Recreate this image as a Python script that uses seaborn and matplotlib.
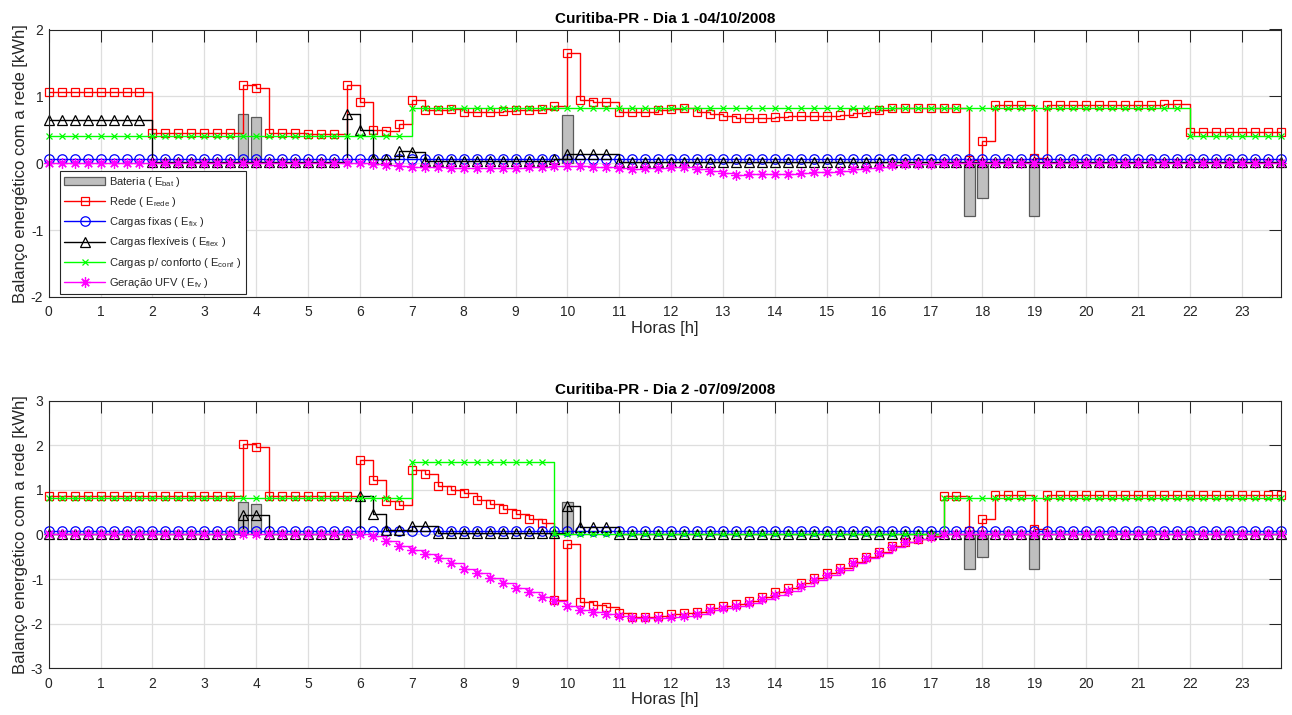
import numpy as np
import matplotlib
matplotlib.use("Agg")
import matplotlib.pyplot as plt
from matplotlib.patches import Patch
from matplotlib.lines import Line2D
import seaborn as sns

# ---------------- data ----------------
hours = np.arange(96) * 0.25
xticks = list(range(24))

titles = ["Curitiba-PR - Dia 1 -04/10/2008", "Curitiba-PR - Dia 2 -07/09/2008"]
xlabel = "Horas [h]"
ylabel = "Balanço energético com a rede [kWh]"
labels = ["Bateria ( E$_{bat}$ )", "Rede ( E$_{rede}$ )", "Cargas fixas ( E$_{fix}$ )",
          "Cargas flexíveis ( E$_{flex}$ )", "Cargas p/ conforto ( E$_{conf}$ )",
          "Geração UFV ( E$_{fv}$ )"]

# Day 1
bat1 = [0]*15 + [0.73, 0.69] + [0]*23 + [0.72] + [0]*30 + [-0.79, -0.52, 0, 0, 0, -0.79] + [0]*19
red1 = ([1.07]*8 + [0.45]*7 + [1.17, 1.12] + [0.45, 0.45, 0.45, 0.44, 0.44, 0.43] +
        [1.17, 0.92, 0.50, 0.48, 0.58, 0.95, 0.79, 0.79, 0.81, 0.77, 0.77, 0.77, 0.78,
         0.79, 0.80, 0.81, 0.86, 1.65, 0.94, 0.92, 0.91, 0.77, 0.76, 0.77, 0.79,
         0.81, 0.82, 0.77, 0.73, 0.70, 0.67, 0.68, 0.68, 0.69, 0.70, 0.70, 0.71,
         0.71, 0.72, 0.75, 0.77, 0.80, 0.82, 0.82, 0.83, 0.83, 0.83, 0.83, 0.05,
         0.34, 0.87, 0.87, 0.87, 0.08] + [0.87]*9 + [0.88, 0.88] + [0.47]*8)
fix1 = [0.07]*28 + [0.06]*36 + [0.07]*32
flex1 = ([0.64]*8 + [0.02]*15 + [0.74, 0.50, 0.07, 0.07, 0.18, 0.17] + [0.04]*10 +
         [0.06, 0.14, 0.14, 0.14, 0.14] + [0.02]*52)
conf1 = [0.41]*28 + [0.82]*60 + [0.41]*8
pv1 = ([0.0]*25 + [-0.01, -0.025, -0.04, -0.05, -0.06, -0.06, -0.065, -0.075, -0.075,
        -0.075, -0.065, -0.065, -0.06, -0.05, -0.04, -0.035, -0.04, -0.05, -0.06,
        -0.075, -0.09, -0.075, -0.065, -0.06, -0.06, -0.085, -0.115, -0.15, -0.175,
        -0.165, -0.165, -0.16, -0.155, -0.145, -0.135, -0.125, -0.11, -0.085, -0.065,
        -0.05, -0.025, -0.015, -0.01, -0.005] + [0.0]*27)

# Day 2
bat2 = [0]*15 + [0.73, 0.69] + [0]*23 + [0.72] + [0]*30 + [-0.77, -0.51, 0, 0, 0, -0.77] + [0]*19
red2 = ([0.86]*15 + [2.02, 1.95] + [0.86]*7 +
        [1.67, 1.23, 0.74, 0.65, 1.45, 1.35, 1.09, 1.00, 0.92, 0.78, 0.67, 0.56, 0.45,
         0.35, 0.25, -1.47, -0.22, -1.52, -1.58, -1.62, -1.77, -1.84, -1.84, -1.83,
         -1.79, -1.77, -1.73, -1.66, -1.61, -1.56, -1.49, -1.40, -1.30, -1.21, -1.10,
         -0.98, -0.87, -0.76, -0.62, -0.51, -0.39, -0.26, -0.16, -0.11, -0.04,
         0.86, 0.86, 0.07, 0.35, 0.89, 0.89, 0.89, 0.11] + [0.88]*19)
fix2 = [0.08]*96
flex2 = ([0.02]*15 + [0.44, 0.44] + [0.02]*7 + [0.85, 0.45, 0.10, 0.10, 0.18, 0.18] +
         [0.03]*10 + [0.64, 0.16, 0.16, 0.16] + [0.02]*52)
conf2 = [0.82]*28 + [1.62]*11 + [0.0]*30 + [0.82]*27
pv2 = ([0.0]*25 + [-0.04, -0.15, -0.25, -0.36, -0.43, -0.53, -0.65, -0.77, -0.87, -0.98,
        -1.09, -1.19, -1.30, -1.41, -1.49, -1.60, -1.70, -1.73, -1.79, -1.82, -1.88,
        -1.88, -1.87, -1.85, -1.83, -1.79, -1.70, -1.66, -1.61, -1.54, -1.45, -1.35,
        -1.26, -1.15, -1.03, -0.90, -0.79, -0.65, -0.53, -0.41, -0.28, -0.17, -0.11,
        -0.05] + [0.0]*27)

ylims = [(-2, 2), (-3, 3)]

# ---------------- style ----------------
sns.set_theme(style="white")
plt.rcParams["font.family"] = ["Liberation Sans", "DejaVu Sans"]
plt.rcParams["mathtext.default"] = "regular"
plt.rcParams["mathtext.fontset"] = "custom"
plt.rcParams["mathtext.rm"] = "Liberation Sans"
plt.rcParams["mathtext.it"] = "Liberation Sans"
plt.rcParams["axes.unicode_minus"] = False

AX = "#262626"
W, H = 1292, 715
fig = plt.figure(figsize=(W / 100, H / 100), dpi=100)
fig.patch.set_facecolor("white")

axes_px = [(48.7, 29.5, 1280.7, 297.0), (48.7, 400.5, 1280.7, 668.3)]

series_style = [
    ("red", "s", 6.3),
    ("blue", "o", 6.8),
    ("black", "^", 7.2),
    ("#00ff00", "x", 5.0),
    ("magenta", (8, 2, 0), 7.5),
]

days = [
    (bat1, [red1, fix1, flex1, conf1, pv1]),
    (bat2, [red2, fix2, flex2, conf2, pv2]),
]

for k, (bat, lines) in enumerate(days):
    l, t, r, b = axes_px[k]
    ax = fig.add_axes([l / W, 1 - b / H, (r - l) / W, (b - t) / H])
    ax.set_axisbelow(True)
    ax.grid(True, color="#dedede", linewidth=0.9)

    bat_arr = np.array(bat, dtype=float)
    nz = bat_arr != 0
    ax.bar(hours[nz], bat_arr[nz], width=0.2, color="#bfbfbf",
           edgecolor="#5a5a5a", linewidth=0.9, zorder=2)

    for (col, mk, ms), vals in zip(series_style, lines):
        sns.lineplot(x=hours, y=np.array(vals, dtype=float), ax=ax,
                     drawstyle="steps-post", estimator=None, sort=False,
                     color=col, linewidth=1.0, marker=mk, markersize=ms,
                     markerfacecolor="none", markeredgecolor=col,
                     markeredgewidth=0.9, zorder=3, clip_on=False)

    ax.set_xlim(0, 23.75)
    ax.set_ylim(*ylims[k])
    ax.set_xticks(xticks)
    ax.set_yticks(range(ylims[k][0], ylims[k][1] + 1))
    ax.tick_params(direction="in", length=8.6, width=0.75, colors=AX,
                   top=True, right=True, labelsize=10, pad=6)
    ax.tick_params(axis="y", pad=4)
    for s in ax.spines.values():
        s.set_color(AX)
        s.set_linewidth(0.8)
        s.set_visible(True)
        s.set_zorder(5)
    ax.set_title(titles[k], fontsize=11, fontweight="bold", color="black", pad=5)
    ax.set_xlabel(xlabel, fontsize=12, color=AX, labelpad=1)
    ax.set_ylabel(ylabel, fontsize=12, color=AX, labelpad=2)

    if k == 0:
        handles = [Patch(facecolor="#bfbfbf", edgecolor="#5a5a5a", linewidth=0.9)]
        for col, mk, ms in series_style:
            handles.append(Line2D([0], [0], color=col, linewidth=1.0, marker=mk,
                                  markersize=ms, markerfacecolor="none",
                                  markeredgecolor=col, markeredgewidth=0.9))
        leg = ax.legend(handles, labels, loc="lower left",
                        bbox_to_anchor=(0.009, 0.011), borderaxespad=0,
                        fontsize=8, frameon=True, fancybox=False,
                        framealpha=1, edgecolor=AX, handlelength=3.7,
                        labelspacing=0.55, handletextpad=0.35, borderpad=0.4)
        leg.get_frame().set_linewidth(0.8)
        leg.set_zorder(6)

fig.savefig("out.png", dpi=100, facecolor="white")
